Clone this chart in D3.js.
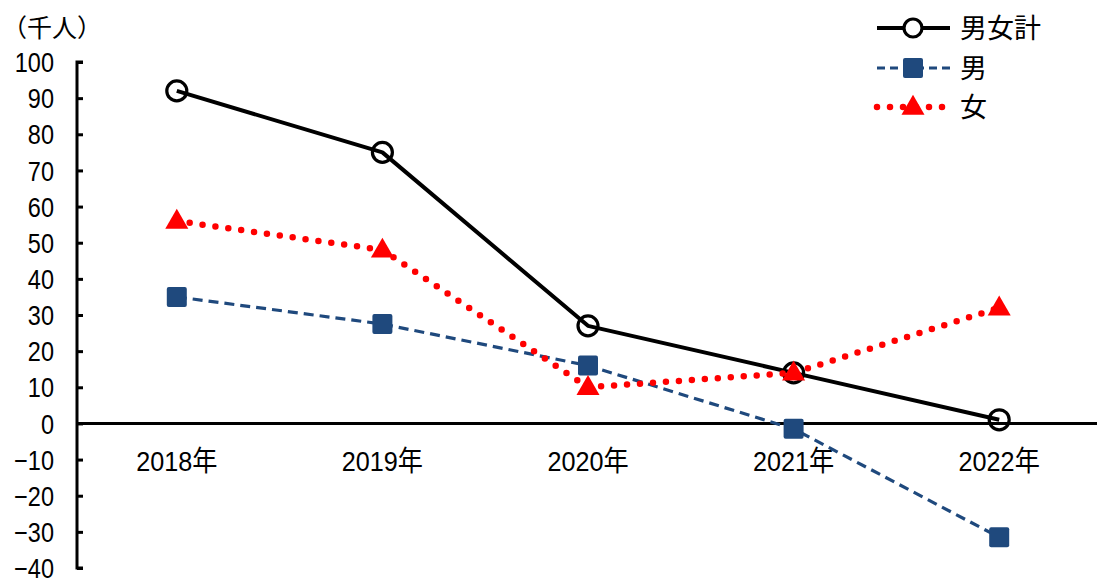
<!DOCTYPE html>
<html><head><meta charset="utf-8">
<script src="https://cdn.jsdelivr.net/npm/d3@7"></script>
<style>
html,body{margin:0;padding:0;background:#fff;}
svg{display:block;}
</style></head>
<body>
<svg id="chart" width="1097" height="581"></svg>
<script>
const categories = ["2018年","2019年","2020年","2021年","2022年"];
const totalValues = [92, 75, 27, 14, 1];
const maleValues = [35, 27.5, 16, -1.5, -31.5];
const femaleValues = [56, 48, 10, 14, 32];
const yTicks = [-40,-30,-20,-10,0,10,20,30,40,50,60,70,80,90,100];
const seriesNames = ["男女計","男","女"];
const unitLabel = "（千人）";

const numFont = "'Liberation Sans','Noto Sans CJK JP',sans-serif";
const jpFont = "'Noto Sans CJK JP',sans-serif";
const sx = 0.84;

const svg = d3.select("#chart");
const x = d3.scaleBand().domain(categories).range([74, 1102]).padding(0);
const y = d3.scaleLinear().domain([-40, 100]).range([568, 62]);
const cx = c => x(c) + x.bandwidth()/2;

// y axis
const yAxis = d3.axisRight(y).tickValues(yTicks).tickSize(6).tickFormat("");
const gy = svg.append("g").attr("transform","translate(77,0)").call(yAxis);
gy.select(".domain").attr("stroke","#000").attr("stroke-width",3).attr("d",`M6,${y(100)}H0V${y(-40)}H6`);
gy.selectAll(".tick line").attr("stroke","#000").attr("stroke-width",3);

// y tick labels
svg.append("g").selectAll("text").data(yTicks).join("text")
  .attr("transform",d=>`translate(54,${y(d)}) scale(${sx},1)`)
  .attr("dy","0.36em")
  .attr("text-anchor","end")
  .style("font-family",numFont).style("font-size","28px").attr("fill","#000")
  .text(d=> d<0 ? "−"+Math.abs(d) : d);

// zero line
svg.append("line").attr("x1",77).attr("x2",1097).attr("y1",y(0)).attr("y2",y(0))
  .attr("stroke","#000").attr("stroke-width",3);

// x labels
svg.append("g").selectAll("text").data(categories).join("text")
  .attr("transform",d=>`translate(${cx(d)},471) scale(0.9,1)`)
  .attr("text-anchor","middle")
  .style("font-family",numFont).style("font-size","28px").attr("fill","#000")
  .text(d=>d);

// unit label
svg.append("text").attr("x",2).attr("y",37)
  .style("font-family",jpFont).style("font-size","25px").attr("fill","#000")
  .text(unitLabel);

const line = d3.line().x((d,i)=>cx(categories[i])).y(d=>y(d));

// total
svg.append("path").datum(totalValues).attr("d",line)
  .attr("fill","none").attr("stroke","#000").attr("stroke-width",4).attr("stroke-linejoin","round");
svg.append("g").selectAll("circle").data(totalValues).join("circle")
  .attr("cx",(d,i)=>cx(categories[i])).attr("cy",d=>y(d)).attr("r",10)
  .attr("fill","none").attr("stroke","#000").attr("stroke-width",3.2);

// male
svg.append("path").datum(maleValues).attr("d",line)
  .attr("fill","none").attr("stroke","#1F497D").attr("stroke-width",3.2).attr("stroke-dasharray","10,6");
svg.append("g").selectAll("rect").data(maleValues).join("rect")
  .attr("x",(d,i)=>cx(categories[i])-10).attr("y",d=>y(d)-10).attr("width",20).attr("height",20).attr("rx",2)
  .attr("fill","#1F497D");

// female
svg.append("path").datum(femaleValues).attr("d",line)
  .attr("fill","none").attr("stroke","#FF0000").attr("stroke-width",6.5)
  .attr("stroke-linecap","round").attr("stroke-dasharray","0,13");
const tri = d3.symbol().type(d3.symbolTriangle).size(230);
svg.append("g").selectAll("path").data(femaleValues).join("path")
  .attr("d",tri).attr("transform",(d,i)=>`translate(${cx(categories[i])},${y(d)+1})`)
  .attr("fill","#FF0000");

// legend
const lg = svg.append("g");
const rows = [28, 68, 107];
lg.append("line").attr("x1",877).attr("x2",950).attr("y1",rows[0]).attr("y2",rows[0]).attr("stroke","#000").attr("stroke-width",4);
lg.append("circle").attr("cx",913).attr("cy",rows[0]).attr("r",9).attr("fill","#fff").attr("stroke","#000").attr("stroke-width",3.2);
lg.append("line").attr("x1",877).attr("x2",950).attr("y1",rows[1]).attr("y2",rows[1]).attr("stroke","#1F497D").attr("stroke-width",3.2).attr("stroke-dasharray","8,5");
lg.append("rect").attr("x",903).attr("y",rows[1]-10).attr("width",20).attr("height",20).attr("rx",2).attr("fill","#1F497D");
lg.append("line").attr("x1",877).attr("x2",950).attr("y1",rows[2]).attr("y2",rows[2]).attr("stroke","#FF0000").attr("stroke-width",6.5).attr("stroke-linecap","round").attr("stroke-dasharray","0,13");
lg.append("path").attr("d",tri).attr("transform",`translate(913,${rows[2]+1})`).attr("fill","#FF0000");
lg.selectAll("text").data(seriesNames).join("text")
  .attr("x",960).attr("y",(d,i)=>rows[i]).attr("dy","0.36em")
  .style("font-family",jpFont).style("font-size","27px").attr("fill","#000")
  .text(d=>d);
</script>
</body></html>
